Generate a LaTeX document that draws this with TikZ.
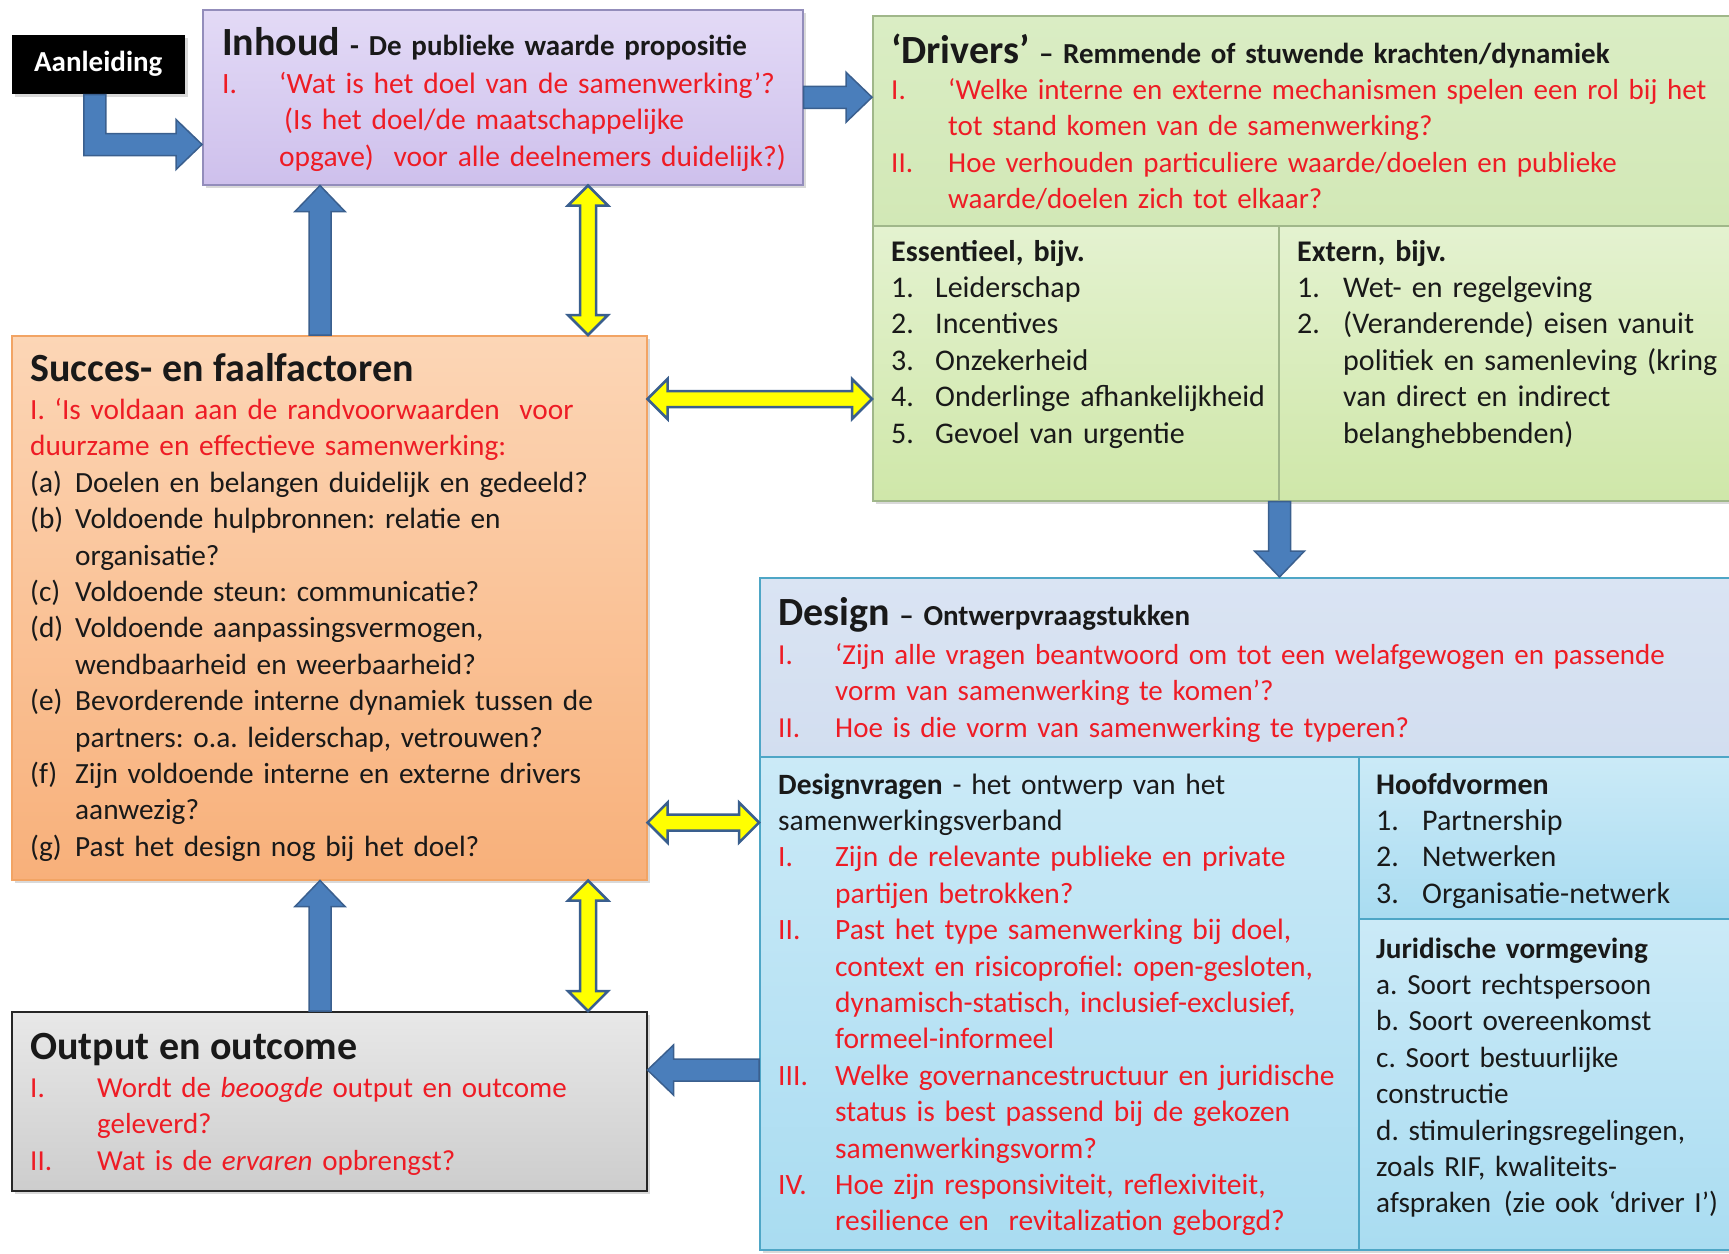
\documentclass[tikz,border=0pt]{standalone}
\usepackage{fontspec}
\setmainfont{Carlito}
\usepackage{xcolor}
\usetikzlibrary{calc,shadows}
\frenchspacing

\definecolor{qred}{HTML}{EE1C25}
\definecolor{arrblue}{HTML}{4A7EBB}
\definecolor{arredge}{HTML}{3A5F8E}
\definecolor{arryel}{HTML}{FFFF00}
\definecolor{inhtop}{HTML}{E3DAF6}
\definecolor{inhbot}{HTML}{CEC0EC}
\definecolor{inhedge}{HTML}{938DBB}
\definecolor{drvtop}{HTML}{DAEDC4}
\definecolor{drvbot}{HTML}{D2E8B6}
\definecolor{subtop}{HTML}{E4F2D0}
\definecolor{subbot}{HTML}{CFE7A9}
\definecolor{drvedge}{HTML}{A0B78A}
\definecolor{suctop}{HTML}{FCD6B6}
\definecolor{sucbot}{HTML}{F8B07A}
\definecolor{sucedge}{HTML}{F2A464}
\definecolor{destop}{HTML}{DAE4F3}
\definecolor{desbot}{HTML}{D2DEF0}
\definecolor{dvtop}{HTML}{CBEAF7}
\definecolor{dvbot}{HTML}{A9DCF1}
\definecolor{desedge}{HTML}{4EA6C6}
\definecolor{outtop}{HTML}{E8E8E8}
\definecolor{outbot}{HTML}{CDCDCD}

\newcommand{\qitem}[3]{\par\hangindent=#1\hangafter=1\noindent\makebox[#1][l]{#2}#3}
\newcommand{\boxhead}[1]{{\fontsize{40}{44}\selectfont\bfseries #1}}
\newcommand{\boxsub}[1]{{\fontsize{29}{34}\selectfont\bfseries #1}}

% block arrow: [style]{from}{to}{half shaft}{half head}{head length}
\newcommand{\onearrow}[6][]{%
  \path[#1] let \p1=#2, \p2=#3, \n1={veclen(\x2-\x1,\y2-\y1)},
    \n2={(\x2-\x1)/\n1}, \n3={(\y2-\y1)/\n1} in
    ({\x1-#4*\n3},{\y1+#4*\n2}) -- ({\x2-#6*\n2-#4*\n3},{\y2-#6*\n3+#4*\n2})
    -- ({\x2-#6*\n2-#5*\n3},{\y2-#6*\n3+#5*\n2}) -- (\p2)
    -- ({\x2-#6*\n2+#5*\n3},{\y2-#6*\n3-#5*\n2}) -- ({\x2-#6*\n2+#4*\n3},{\y2-#6*\n3-#4*\n2})
    -- ({\x1+#4*\n3},{\y1-#4*\n2}) -- cycle;}
\newcommand{\twoarrow}[6][]{%
  \path[#1] let \p1=#2, \p2=#3, \n1={veclen(\x2-\x1,\y2-\y1)},
    \n2={(\x2-\x1)/\n1}, \n3={(\y2-\y1)/\n1} in
    (\p1) -- ({\x1+#6*\n2+#5*\n3},{\y1+#6*\n3-#5*\n2}) -- ({\x1+#6*\n2+#4*\n3},{\y1+#6*\n3-#4*\n2})
    -- ({\x2-#6*\n2+#4*\n3},{\y2-#6*\n3-#4*\n2}) -- ({\x2-#6*\n2+#5*\n3},{\y2-#6*\n3-#5*\n2})
    -- (\p2) -- ({\x2-#6*\n2-#5*\n3},{\y2-#6*\n3+#5*\n2}) -- ({\x2-#6*\n2-#4*\n3},{\y2-#6*\n3+#4*\n2})
    -- ({\x1+#6*\n2-#4*\n3},{\y1+#6*\n3+#4*\n2}) -- ({\x1+#6*\n2-#5*\n3},{\y1+#6*\n3+#5*\n2}) -- cycle;}

\begin{document}
\begin{tikzpicture}[x=1pt, y=-1pt,
    box/.style={anchor=north west, inner sep=0pt, line width=1.5pt,
      drop shadow={opacity=0.3, shadow xshift=3pt, shadow yshift=-3pt}},
    txt/.style={anchor=base west, inner sep=0pt, align=left, text width=#1pt,
      font=\fontsize{30}{36.4}\selectfont, text=black!90},
    fsize/.style={font=\fontsize{#1}{36.4}\selectfont},
    bluearr/.style={draw=arredge, fill=arrblue, line width=1.5pt},
    yelarr/.style={draw=arredge, fill=arryel, line width=2.5pt}]

  \useasboundingbox (0,0) rectangle (1729,1253);

  % boxes
  \node[box, fill=black, minimum width=173pt, minimum height=59pt, text=white,
    font=\fontsize{29}{34}\selectfont\bfseries] (aanleiding) at (11,34) {Aanleiding};
  \node[box, draw=inhedge, top color=inhtop, bottom color=inhbot,
    minimum width=600pt, minimum height=175pt] (inhoud) at (202,9) {};

  \node[box, draw=drvedge, top color=drvtop, bottom color=drvbot,
    minimum width=862pt, minimum height=210pt] (drivers) at (872,15) {};
  \node[box, draw=drvedge, top color=subtop, bottom color=subbot,
    minimum width=406pt, minimum height=275pt] (essentieel) at (872,225) {};
  \node[box, draw=drvedge, top color=subtop, bottom color=subbot,
    minimum width=456pt, minimum height=275pt] (extern) at (1278,225) {};

  \node[box, draw=sucedge, top color=suctop, bottom color=sucbot,
    minimum width=635pt, minimum height=544pt] (succes) at (11,335) {};

  \node[box, draw=desedge, top color=destop, bottom color=desbot,
    minimum width=975pt, minimum height=179pt] (design) at (759,577) {};
  \node[box, draw=desedge, top color=dvtop, bottom color=dvbot,
    minimum width=599pt, minimum height=493pt] (designvragen) at (759,756) {};
  \node[box, draw=desedge, top color=dvtop, bottom color=dvbot,
    minimum width=376pt, minimum height=162pt] (hoofdvormen) at (1358,756) {};
  \node[box, draw=desedge, top color=dvtop, bottom color=dvbot,
    minimum width=376pt, minimum height=331pt] (juridisch) at (1358,918) {};

  \node[box, draw=black!85, top color=outtop, bottom color=outbot,
    minimum width=635pt, minimum height=179pt] (output) at (11,1011) {};

  % texts
  \node[txt=575, fsize=29.5] (inhoudtxt) at (222,55) {\boxhead{Inhoud} \boxsub{- De publieke waarde propositie}\par\vspace{2pt}\color{qred}%
    \qitem{57pt}{I.}{‘Wat is het doel van de samenwerking’?\newline\hspace*{5pt}(Is het doel/de maatschappelijke\newline opgave)\ \ voor alle deelnemers duidelijk?)}\par};

  \node[txt=850, fsize=29] (driverstxt) at (891,63) {\boxhead{‘Drivers’} \boxsub{– Remmende of stuwende krachten/dynamiek}\par\color{qred}%
    \qitem{57pt}{I.}{‘Welke interne en externe mechanismen spelen een rol bij het\newline tot stand komen van de samenwerking?}%
    \qitem{57pt}{II.}{Hoe verhouden particuliere waarde/doelen en publieke\newline waarde/doelen zich tot elkaar?}\par};

  \node[txt=400] (essentieeltxt) at (891,261) {\textbf{Essentieel, bijv.}%
    \qitem{44pt}{1.}{Leiderschap}\qitem{44pt}{2.}{Incentives}\qitem{44pt}{3.}{Onzekerheid}%
    \qitem{44pt}{4.}{Onderlinge afhankelijkheid}\qitem{44pt}{5.}{Gevoel van urgentie}\par};

  \node[txt=430] (externtxt) at (1297,261) {\textbf{Extern, bijv.}%
    \qitem{46pt}{1.}{Wet- en regelgeving}%
    \qitem{46pt}{2.}{(Veranderende) eisen vanuit\newline politiek en samenleving (kring\newline van direct en indirect\newline belanghebbenden)}\par};

  \node[txt=610, fsize=29.3] (succestxt) at (30,381) {\boxhead{Succes- en faalfactoren}\par\vspace{2pt}%
    {\color{qred}I. ‘Is voldaan aan de randvoorwaarden\ \ voor\newline duurzame en effectieve samenwerking:\par}%
    \qitem{45pt}{(a)}{Doelen en belangen duidelijk en gedeeld?}%
    \qitem{45pt}{(b)}{Voldoende hulpbronnen: relatie en\newline organisatie?}%
    \qitem{45pt}{(c)}{Voldoende steun: communicatie?}%
    \qitem{45pt}{(d)}{Voldoende aanpassingsvermogen,\newline wendbaarheid en weerbaarheid?}%
    \qitem{45pt}{(e)}{Bevorderende interne dynamiek tussen de\newline partners: o.a. leiderschap, vetrouwen?}%
    \qitem{45pt}{(f)}{Zijn voldoende interne en externe drivers\newline aanwezig?}%
    \qitem{45pt}{(g)}{Past het design nog bij het doel?}\par};

  \node[txt=930, fsize=29] (designtxt) at (778,625) {\boxhead{Design} \boxsub{– Ontwerpvraagstukken}\par\vspace{3pt}\color{qred}%
    \qitem{57pt}{I.}{‘Zijn alle vragen beantwoord om tot een welafgewogen en passende\newline vorm van samenwerking te komen’?}%
    \qitem{57pt}{II.}{Hoe is die vorm van samenwerking te typeren?}\par};

  \node[txt=575, fsize=29.5] (designvragentxt) at (778,794) {\textbf{Designvragen} - het ontwerp van het\newline samenwerkingsverband\par\color{qred}%
    \qitem{57pt}{I.}{Zijn de relevante publieke en private\newline partijen betrokken?}%
    \qitem{57pt}{II.}{Past het type samenwerking bij doel,\newline context en risicoprofiel: open-gesloten,\newline dynamisch-statisch, inclusief-exclusief,\newline formeel-informeel}%
    \qitem{57pt}{III.}{Welke governancestructuur en juridische\newline status is best passend bij de gekozen\newline samenwerkingsvorm?}%
    \qitem{57pt}{IV.}{Hoe zijn responsiviteit, reflexiviteit,\newline resilience en\ \ revitalization geborgd?}\par};

  \node[txt=340] (hoofdvormentxt) at (1376,794) {\textbf{Hoofdvormen}%
    \qitem{46pt}{1.}{Partnership}\qitem{46pt}{2.}{Netwerken}\qitem{46pt}{3.}{Organisatie-netwerk}\par};

  \node[txt=360, fsize=29.2] (juridischtxt) at (1376,958) {\textbf{Juridische vormgeving}\newline a. Soort rechtspersoon\newline
    b. Soort overeenkomst\newline c. Soort bestuurlijke\newline constructie\newline d. stimuleringsregelingen,\newline
    zoals RIF, kwaliteits-\newline afspraken\ \hspace{3pt}(zie ook ‘driver I’)\par};

  \node[txt=600, fsize=29] (outputtxt) at (30,1059) {\boxhead{Output en outcome}\par\vspace{2pt}\color{qred}%
    \qitem{67pt}{I.}{Wordt de \textit{beoogde} output en outcome\newline geleverd?}%
    \qitem{67pt}{II.}{Wat is de \textit{ervaren} opbrengst?}\par};

  % arrows
  \coordinate (bend) at ($(aanleiding.south)+(-3.5,50)$);
  \coordinate (upleft) at ($(succes.north west)+(309,0)$);
  \coordinate (upright) at ($(succes.north west)+(577,0)$);
  \coordinate (sideup) at ($(succes.north east)+(0,64)$);
  \coordinate (sidedown) at ($(succes.south east)+(0,-58)$);
  \coordinate (lowleft) at ($(output.north west)+(309,0)$);
  \coordinate (lowright) at ($(output.north west)+(577,0)$);
  \coordinate (backin) at ($(output.north east)+(0,59)$);

  \draw[bluearr] ($(bend |- aanleiding.south)+(-11,0)$) -- ($(bend)+(-11,11)$)
    -- ($(inhoud.west |- bend)+(-26,11)$) -- ($(inhoud.west |- bend)+(-26,25)$)
    -- (inhoud.west |- bend) -- ($(inhoud.west |- bend)+(-26,-25)$)
    -- ($(inhoud.west |- bend)+(-26,-11)$) -- ($(bend)+(11,-11)$)
    -- ($(bend |- aanleiding.south)+(11,0)$) -- cycle;

  \onearrow[bluearr]{(inhoud.east)}{(inhoud.east -| drivers.west)}{11}{25}{26}
  \onearrow[bluearr]{(upleft)}{(upleft |- inhoud.south)}{11}{25}{26}
  \twoarrow[yelarr]{(upright |- inhoud.south)}{(upright)}{8}{20}{20}
  \twoarrow[yelarr]{(sideup)}{(sideup -| drivers.west)}{8}{20}{20}
  \onearrow[bluearr]{(essentieel.south east)}{(essentieel.south east |- design.north)}{11}{25}{26}
  \twoarrow[yelarr]{(sidedown)}{(sidedown -| design.west)}{8}{20}{20}
  \onearrow[bluearr]{(lowleft)}{(lowleft |- succes.south)}{11}{25}{26}
  \twoarrow[yelarr]{(lowright |- succes.south)}{(lowright)}{8}{20}{20}
  \onearrow[bluearr]{(designvragen.west |- backin)}{(backin)}{11}{25}{26}
\end{tikzpicture}
\end{document}
